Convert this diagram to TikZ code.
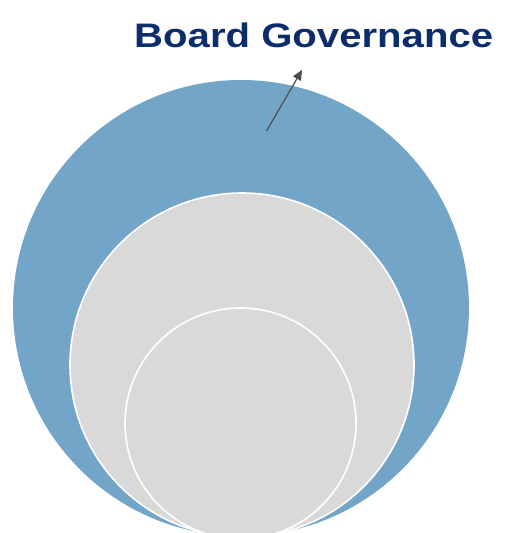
\documentclass[tikz,border=0pt]{standalone}
\usepackage{fontspec}
\setmainfont{Liberation Sans}
\usetikzlibrary{arrows.meta}
\definecolor{ringblue}{HTML}{72A5C8}
\definecolor{ringgrey}{HTML}{D9D9D9}
\definecolor{titlenavy}{HTML}{0C2D6B}
\definecolor{pointer}{HTML}{4D4D4D}

\begin{document}
\begin{tikzpicture}[x=1pt,y=-1pt,
  ring/.style={circle, inner sep=0pt, draw=white, line width=1.6pt},
  every node/.style={inner sep=0pt}]
\useasboundingbox (0,0) rectangle (506,533);
\clip (0,0) rectangle (506,533);
\node[ring, fill=ringblue, draw=none, minimum size=456pt] (outer) at (241,308) {};
\node[ring, fill=ringgrey, minimum size=344pt] (middle) at (242,365) {};
\node[ring, fill=ringgrey, minimum size=231pt] (inner) at (240.5,423.5) {};
\node[anchor=base west, xscale=1.18, text=titlenavy, font=\fontsize{34}{38}\selectfont\bfseries] (title) at (134,47) {Board Governance};
\coordinate (tail) at (266.5,131);
\coordinate (tip) at (302,70);
\draw[pointer, line width=1.2pt, -{Triangle[length=10pt,width=9pt]}] (tail) -- (tip);
\end{tikzpicture}
\end{document}
